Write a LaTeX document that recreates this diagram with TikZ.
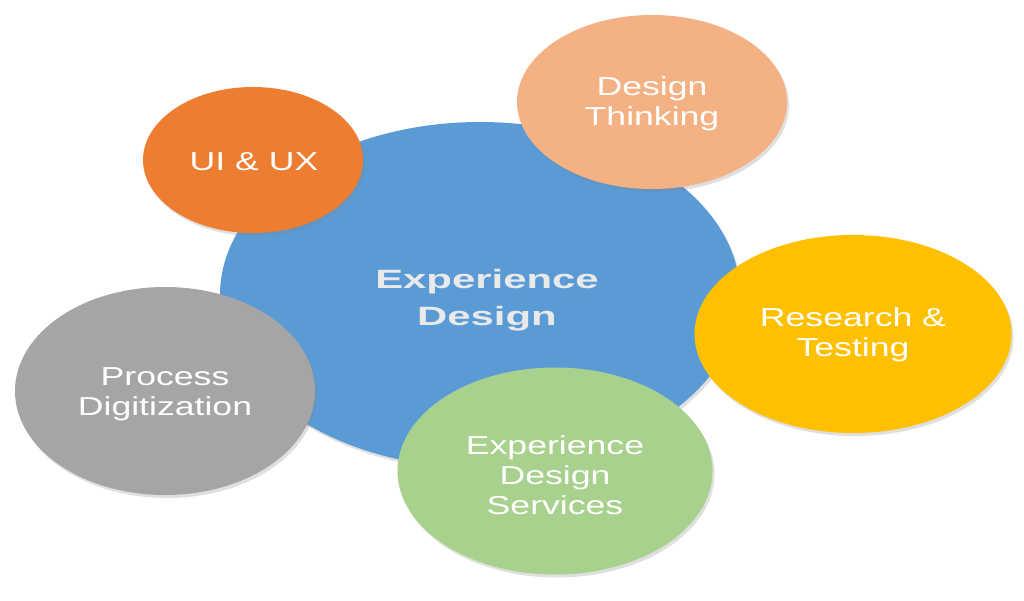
\documentclass[tikz,border=0pt]{standalone}
\usepackage{fontspec}
\setmainfont{Liberation Sans}
\newfontfamily\regw[FakeStretch=1.37]{Liberation Sans}
\newfontfamily\boldw[FakeStretch=1.58]{Liberation Sans}
\usetikzlibrary{shapes.geometric,shadows}
\definecolor{cblue}{HTML}{5B9BD5}
\definecolor{corange}{HTML}{ED7D31}
\definecolor{cpeach}{HTML}{F4B183}
\definecolor{cyellow}{HTML}{FFC000}
\definecolor{cgray}{HTML}{A5A5A5}
\definecolor{cgreen}{HTML}{A9D18E}
\definecolor{ctext}{HTML}{E9E9E9}
\tikzset{
  bubble/.style={ellipse, inner sep=0pt,
    drop shadow={opacity=0.25, shadow xshift=2pt, shadow yshift=-3pt}},
  label/.style={text=white, align=center, font={\regw\fontsize{26}{30}\selectfont}},
  mainlabel/.style={text=ctext, align=center, font={\boldw\bfseries\fontsize{26.5}{37}\selectfont}},
}
\begin{document}
\begin{tikzpicture}[x=1pt,y=-1pt]
\useasboundingbox[fill=white] (0,0) rectangle (1024,600);
\node[bubble, fill=cblue, minimum width=520, minimum height=346] (center) at (480,295) {};
\node[mainlabel] (centertext) at (487,300) {Experience\\Design};
\node[bubble, fill=corange, minimum width=220, minimum height=146] (ui) at (253,160) {};
\node[label] (uit) at (254,162) {UI \& UX};
\node[bubble, fill=cpeach, minimum width=270, minimum height=174] (dt) at (652,102) {};
\node[label] (dtt) at (652,104) {Design\\Thinking};
\node[bubble, fill=cyellow, minimum width=317, minimum height=198] (rt) at (853,334) {};
\node[label] (rtt) at (853,335) {Research \&\\Testing};
\node[bubble, fill=cgray, minimum width=300, minimum height=208] (pd) at (165,391) {};
\node[label] (pdt) at (165,394) {Process\\Digitization};
\node[bubble, fill=cgreen, minimum width=315, minimum height=207] (eds) at (555,471) {};
\node[label] (edst) at (555,475) {Experience\\Design\\Services};
\end{tikzpicture}
\end{document}
